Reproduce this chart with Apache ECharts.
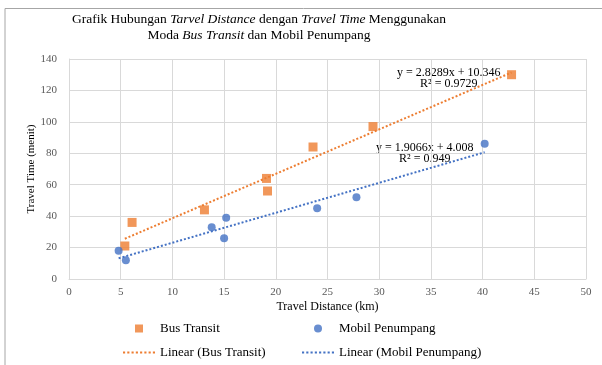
<!DOCTYPE html>
<html>
<head>
<meta charset="utf-8">
<script src="https://cdn.jsdelivr.net/npm/echarts@6/dist/echarts.min.js"></script>
<style>html,body{margin:0;padding:0;background:#fff}#c{width:602px;height:365px}</style>
</head>
<body>
<div id="c"></div>
<script>
// Data
var busDistance = [5.4, 6.1, 13.1, 19.1, 19.2, 23.6, 29.4, 42.8];
var busTime     = [21, 36, 44, 64, 56, 84, 97, 130];
var carDistance = [4.8, 5.5, 13.8, 15.0, 15.2, 24.0, 27.8, 40.2];
var carTime     = [18, 12, 33, 26, 39, 45, 52, 86];
var busTrend = {slope: 2.8289, intercept: 10.346, r2: '0.9729', eq: 'y = 2.8289x + 10.346'};
var carTrend = {slope: 1.9066, intercept: 4.008, r2: '0.949', eq: 'y = 1.9066x + 4.008'};
var xTicks = {min: 0, max: 50, interval: 5};
var yTicks = {min: 0, max: 140, interval: 20};

function pairs(xs, ys){ return xs.map(function(x,i){ return [x, ys[i]]; }); }
function trend(xs, t){
  var lo = Math.min.apply(null, xs), hi = Math.max.apply(null, xs);
  return [[lo, t.slope*lo + t.intercept],[hi, t.slope*hi + t.intercept]];
}
var ORANGE = '#ED7D31', BLUE = '#4472C4';
var FONT = '"Liberation Serif", "DejaVu Serif", serif';
var legendText = {fontFamily: FONT, fontSize: 13, color: '#000'};
var dotIcon = 'path://';
for (var k = 0; k < 8; k++) { dotIcon += 'M' + (k*4) + ',0h2v2h-2z'; }

var chart = echarts.init(document.getElementById('c'), null, {renderer:'canvas'});
chart.setOption({
  animation: false,
  backgroundColor: '#fff',
  textStyle: {fontFamily: FONT},
  title: {
    text: 'Grafik Hubungan {i|Tarvel Distance} dengan {i|Travel Time} Menggunakan\nModa {i|Bus Transit} dan Mobil Penumpang',
    left: 254, top: 6, textAlign: 'center',
    textStyle: {
      fontFamily: FONT, fontSize: 13.5, fontWeight: 'normal', color: '#000', lineHeight: 16,
      rich: {i: {fontFamily: FONT, fontSize: 13.5, fontStyle: 'italic', color: '#000', lineHeight: 16}}
    }
  },
  grid: {left: 69, right: 16, top: 59, bottom: 86},
  xAxis: {
    type: 'value', min: xTicks.min, max: xTicks.max, interval: xTicks.interval,
    name: 'Travel Distance (km)', nameLocation: 'middle', nameGap: 22, nameMoveOverlap: false,
    nameTextStyle: {fontFamily: FONT, fontSize: 12, color: '#000'},
    axisLine: {show: true, lineStyle: {color: '#d9d9d9'}},
    axisTick: {show: false},
    axisLabel: {fontFamily: FONT, fontSize: 11, color: '#595959', margin: 8},
    splitLine: {show: true, lineStyle: {color: '#d9d9d9'}}
  },
  yAxis: {
    type: 'value', min: yTicks.min, max: yTicks.max, interval: yTicks.interval,
    name: 'Travel Time (menit)', nameLocation: 'middle', nameGap: 32, nameRotate: 90, nameMoveOverlap: false,
    nameTextStyle: {fontFamily: FONT, fontSize: 11, color: '#000'},
    axisLine: {show: true, lineStyle: {color: '#d9d9d9'}},
    axisTick: {show: false},
    axisLabel: {fontFamily: FONT, fontSize: 11, color: '#595959', margin: 12},
    splitLine: {show: true, lineStyle: {color: '#d9d9d9'}}
  },
  legend: [
    {
      data: [
        {name: 'Bus Transit', icon: 'path://M0,0h10v10h-10z'},
        {name: 'Linear (Bus Transit)', icon: dotIcon}
      ],
      orient: 'vertical', left: 123, top: 322, padding: 0, itemGap: 11, itemWidth: 32, itemHeight: 8,
      textStyle: legendText
    },
    {
      data: [
        {name: 'Mobil Penumpang', icon: 'circle'},
        {name: 'Linear (Mobil Penumpang)', icon: dotIcon}
      ],
      orient: 'vertical', left: 302, top: 322, padding: 0, itemGap: 11, itemWidth: 32, itemHeight: 8,
      textStyle: legendText
    }
  ],
  graphic: [
    {type: 'polyline', shape: {points: [[5,365],[5,8.5],[602,8.5]]}, style: {stroke: '#a6a6a6', lineWidth: 1, fill: null}, silent: true},
    {type: 'text', left: 397, top: 67, style: {text: busTrend.eq + '\nR² = ' + busTrend.r2, textAlign: 'center', font: '12px ' + FONT, fill: '#000', lineHeight: 11}},
    {type: 'text', left: 376, top: 142, style: {text: carTrend.eq + '\nR² = ' + carTrend.r2, textAlign: 'center', font: '12px ' + FONT, fill: '#000', lineHeight: 11}}
  ],
  series: [
    {
      name: 'Bus Transit', type: 'scatter', data: pairs(busDistance, busTime),
      symbol: 'rect', symbolSize: 9, itemStyle: {color: ORANGE}, z: 5
    },
    {
      name: 'Mobil Penumpang', type: 'scatter', data: pairs(carDistance, carTime),
      symbol: 'circle', symbolSize: 8, itemStyle: {color: BLUE}, z: 5
    },
    {
      name: 'Linear (Bus Transit)', type: 'line', data: trend(busDistance, busTrend),
      showSymbol: false, symbol: 'none', itemStyle: {color: ORANGE},
      lineStyle: {color: ORANGE, width: 2, type: [2, 2]}, z: 3
    },
    {
      name: 'Linear (Mobil Penumpang)', type: 'line', data: trend(carDistance, carTrend),
      showSymbol: false, symbol: 'none', itemStyle: {color: BLUE},
      lineStyle: {color: BLUE, width: 2, type: [2, 2]}, z: 3
    }
  ]
});
</script>
</body>
</html>
